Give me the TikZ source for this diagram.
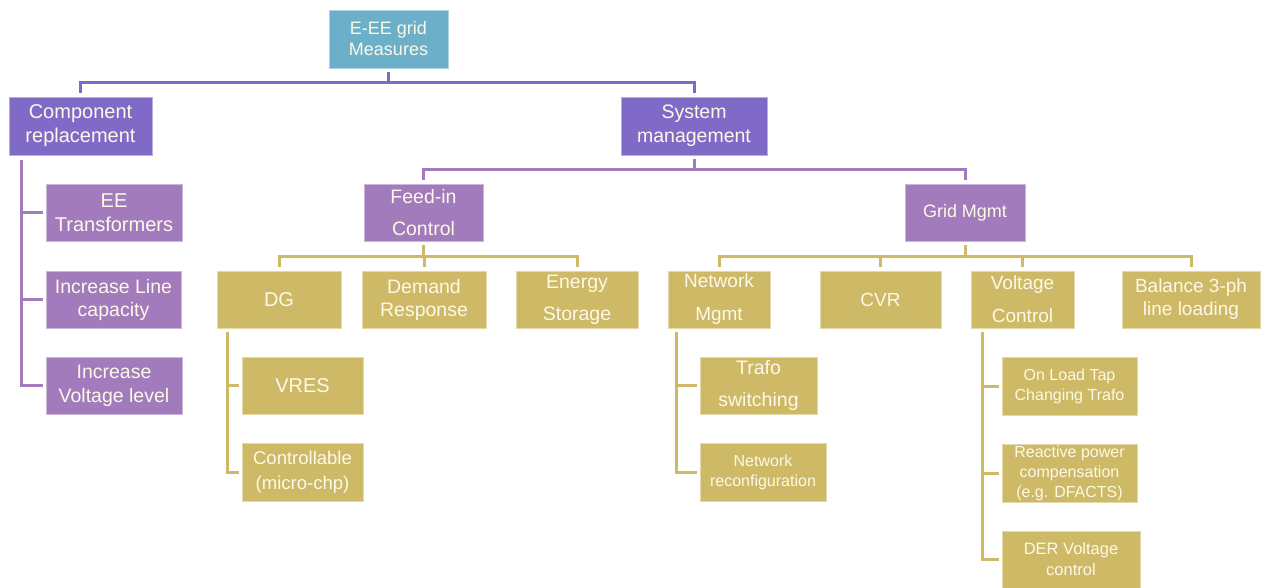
\documentclass[tikz,border=0pt]{standalone}
\usepackage{fontspec}
\setmainfont{Liberation Sans}
\definecolor{rootfill}{RGB}{107,176,200}
\definecolor{lvlone}{RGB}{128,106,200}
\definecolor{lvltwo}{RGB}{162,123,188}
\definecolor{gold}{RGB}{206,185,102}
\definecolor{cream}{RGB}{253,249,232}
\begin{document}
\begin{tikzpicture}[x=1pt,y=-1pt,
  box/.style={draw=#1!55!white, line width=0.8pt, fill=#1, text=cream,
    align=center, inner sep=0pt},
  sz/.style 2 args={minimum width=#1, minimum height=#2},
  fnt/.style 2 args={font=\fontsize{#1}{#2}\selectfont},
  link/.style={draw=#1, line width=3pt, shorten <=4pt, shorten >=4pt},
  side/.style={draw=#1, line width=3pt, shorten >=3pt}]
\useasboundingbox (0,0) rectangle (1261,587);

% top level
\node[box=rootfill, sz={119}{58}, fnt={18}{21}] (root) at (388.5,39) {E-EE grid\\Measures};

% first level
\node[box=lvlone, sz={143}{58}, fnt={20}{24}] (comp) at (80.5,126) {Component\\replacement};
\node[box=lvlone, sz={146}{58}, fnt={19.5}{24}] (sys) at (694,126) {System\\management};

% second level
\node[box=lvltwo, sz={136}{57}, fnt={20}{24}] (ee) at (114,212.5) {EE\\Transformers};
\node[box=lvltwo, sz={135}{57}, fnt={19.5}{23}] (line) at (113.5,299.5) {Increase Line\\capacity};
\node[box=lvltwo, sz={136}{57}, fnt={19.5}{24}] (volt) at (114,385.5) {Increase\\Voltage level};
\node[box=lvltwo, sz={119}{57}, fnt={19.5}{32}] (feed) at (423.5,212.5) {Feed-in\\Control};
\node[box=lvltwo, sz={120}{57}, fnt={18}{22}] (grid) at (965,212.5) {Grid Mgmt};

% third level
\node[box=gold, sz={124}{57}, fnt={20}{24}] (dg) at (279,299.5) {DG};
\node[box=gold, sz={124}{57}, fnt={19.5}{23}] (dr) at (424,299.5) {Demand\\Response};
\node[box=gold, sz={122}{57}, fnt={19.5}{32}] (es) at (577,299.5) {Energy\\Storage};
\node[box=gold, sz={102}{57}, fnt={19}{33}] (nm) at (719,299.5) {Network\\Mgmt};
\node[box=gold, sz={121}{57}, fnt={19}{24}] (cvr) at (880.5,299.5) {CVR};
\node[box=gold, sz={103}{57}, fnt={19}{33}] (vc) at (1022.5,299.5) {Voltage\\Control};
\node[box=gold, sz={138}{57}, fnt={19}{23}] (bal) at (1191,299.5) {Balance 3-ph\\line loading};

% fourth level
\node[box=gold, sz={121}{57}, fnt={20}{24}] (vres) at (302.5,385.5) {VRES};
\node[box=gold, sz={121}{58}, fnt={18.5}{25}] (ctrl) at (302.5,472) {Controllable\\(micro-chp)};
\node[box=gold, sz={117}{57}, fnt={19.5}{32}] (trafo) at (758.5,385.5) {Trafo\\switching};
\node[box=gold, sz={126}{58}, fnt={16}{20}] (recon) at (763,472) {Network\\reconfiguration};
\node[box=gold, sz={135}{58}, fnt={16}{20}] (oltc) at (1069.5,386) {On Load Tap\\Changing Trafo};
\node[box=gold, sz={135}{58}, fnt={16}{20}] (rpc) at (1069.5,473) {Reactive power\\compensation\\(e.g. DFACTS)};
\node[box=gold, sz={138}{57}, fnt={16.5}{21}] (der) at (1071,559.5) {DER Voltage\\control};

% tree links
\draw[link=lvlone] (root.south) -- ++(0,14) -| (comp.north);
\draw[link=lvlone] (root.south) -- ++(0,14) -| (sys.north);
\draw[link=lvltwo] (sys.south) -- ++(0,14) -| (feed.north);
\draw[link=lvltwo] (sys.south) -- ++(0,14) -| (grid.north);
\foreach \c in {dg,dr,es}
  \draw[link=gold] (feed.south) -- ++(0,15) -| (\c.north);
\foreach \c in {nm,cvr,vc,bal}
  \draw[link=gold] (grid.south) -- ++(0,15) -| (\c.north);

% side links
\foreach \c in {ee,line,volt}
  \draw[side=lvltwo] ([xshift=13pt,yshift=-5pt]comp.south west) |- (\c.west);
\foreach \c in {vres,ctrl}
  \draw[side=gold] ([xshift=11pt,yshift=-4pt]dg.south west) |- (\c.west);
\foreach \c in {trafo,recon}
  \draw[side=gold] ([xshift=9pt,yshift=-4pt]nm.south west) |- (\c.west);
\foreach \c in {oltc,rpc,der}
  \draw[side=gold] ([xshift=12pt,yshift=-4pt]vc.south west) |- (\c.west);
\end{tikzpicture}
\end{document}
